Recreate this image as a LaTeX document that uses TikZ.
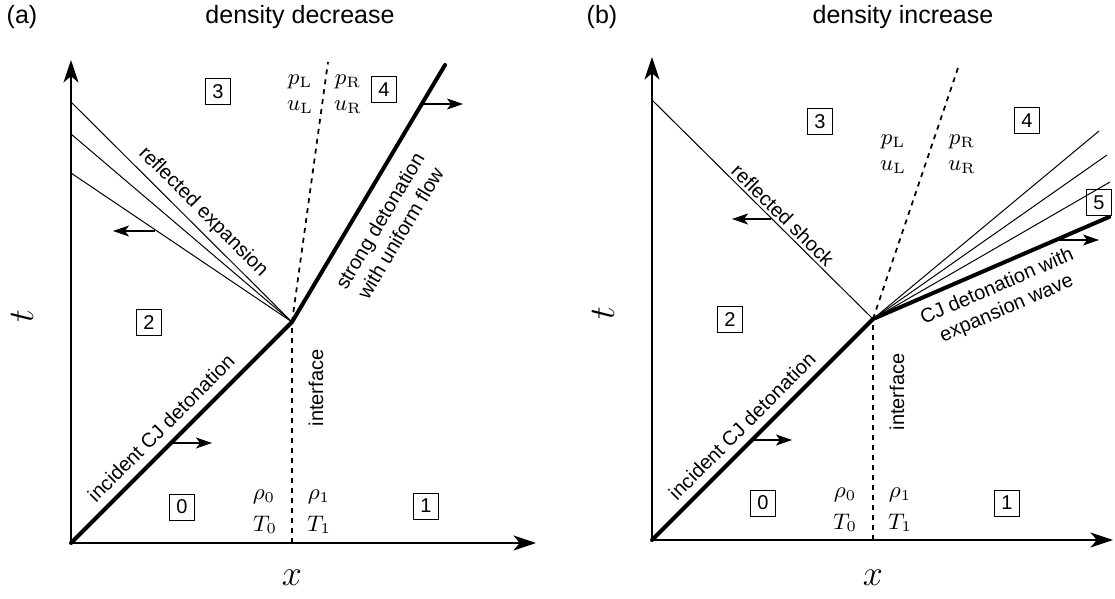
\documentclass[tikz,border=0pt]{standalone}
\usepackage[no-math]{fontspec}
\setmainfont{Liberation Sans}
\usepackage{tikz}
\usetikzlibrary{arrows.meta}
\tikzset{
  axis/.style={line width=0.8pt, -{Stealth[length=9pt, width=6pt, inset=2.5pt]}},
  wave/.style={line width=1.6pt, line cap=round},
  fan/.style={line width=0.4pt},
  contact/.style={line width=0.7pt, dash pattern=on 2pt off 2pt},
  motion/.style={line width=0.5pt, -{Stealth[length=6.4pt, width=4.4pt, inset=1.6pt]}},
  region/.style={
    draw, line width=0.4pt, inner sep=0pt,
    minimum width=10pt, minimum height=10.4pt,
    font=\fontsize{8}{9.6}\selectfont
  },
  lbl/.style={font=\fontsize{8}{9.6}\selectfont, inner sep=0pt, align=center},
  title/.style={font=\fontsize{10}{12}\selectfont, inner sep=0pt},
  state/.style={font=\fontsize{9}{11}\selectfont, inner sep=0pt},
  axlabel/.style={font=\fontsize{15}{18}\selectfont, inner sep=0pt},
}

\begin{document}
\begin{tikzpicture}[x=0.4pt, y=-0.4pt]
  \useasboundingbox (0,0) rectangle (1115,599);

  % (a) density decrease
  \coordinate (oA) at (71,543);
  \coordinate (tA) at (71,60);
  \coordinate (xA) at (536,543);
  \coordinate (kA) at (292,322);
  \coordinate (iA) at (292,543);
  \coordinate (cA) at (328,62);
  \coordinate (sA) at (445,65);
  \foreach \y [count=\i] in {102,134,173} \coordinate (fA\i) at (71,\y);

  \draw [axis]    (oA) -- (tA);
  \draw [axis]    (oA) -- (xA);
  \draw [contact] (iA) -- (kA);
  \draw [contact] (kA) -- (cA);
  \foreach \i in {1,2,3} \draw [fan] (kA) -- (fA\i);
  \draw [wave]    (oA) -- (kA) -- (sA);

  \coordinate (m1A) at (171,443);  \coordinate (m2A) at (212,443);
  \coordinate (m3A) at (155,231);  \coordinate (m4A) at (113,231);
  \coordinate (m5A) at (422,104);  \coordinate (m6A) at (463,104);
  \draw [motion] (m1A) -- (m2A);
  \draw [motion] (m3A) -- (m4A);
  \draw [motion] (m5A) -- (m6A);

  \node (tagA) [title] at (22,17)  {(a)};
  \node (ttlA) [title] at (300,17) {density decrease};
  \node (tlA)  [axlabel, rotate=90] at (22,316) {$t$};
  \node (xlA)  [axlabel] at (292,578) {$x$};

  \node (r0A) [region] at (182,507) {0};
  \node (r1A) [region] at (426,506) {1};
  \node (r2A) [region] at (149,323) {2};
  \node (r3A) [region] at (218,92)  {3};
  \node (r4A) [region] at (384,90)  {4};

  \node (rho0A) [state] at (264,497) {$\rho_0$};
  \node (T0A)   [state] at (265,525) {$T_0$};
  \node (rho1A) [state] at (319,497) {$\rho_1$};
  \node (T1A)   [state] at (319,525) {$T_1$};
  \node (pLA)   [state] at (300,82)  {$p_\mathrm{L}$};
  \node (uLA)   [state] at (300,107) {$u_\mathrm{L}$};
  \node (pRA)   [state] at (348,82)  {$p_\mathrm{R}$};
  \node (uRA)   [state] at (348,107) {$u_\mathrm{R}$};

  \node (incA) [lbl, rotate=45]   at (161,428) {incident CJ detonation};
  \node (refA) [lbl, rotate=-45]  at (203,212) {reflected expansion};
  \node (strA) [lbl, rotate=59.2] at (390,227) {strong detonation\\with uniform flow};
  \node (intA) [lbl, rotate=90]   at (316,388) {interface};

  % (b) density increase
  \coordinate (oB) at (652,540);
  \coordinate (tB) at (652,57);
  \coordinate (xB) at (1113,540);
  \coordinate (kB) at (873,319);
  \coordinate (iB) at (873,540);
  \coordinate (cB) at (959,65);
  \coordinate (hB) at (652,100);
  \coordinate (sB) at (1109,217);
  \coordinate (fB1) at (1099,131);
  \coordinate (fB2) at (1107,155);
  \coordinate (fB3) at (1110,182);

  \draw [axis]    (oB) -- (tB);
  \draw [axis]    (oB) -- (xB);
  \draw [contact] (iB) -- (kB);
  \draw [contact] (kB) -- (cB);
  \draw [fan]     (kB) -- (hB);
  \foreach \i in {1,2,3} \draw [fan] (kB) -- (fB\i);
  \draw [wave]    (oB) -- (kB) -- (sB);

  \coordinate (m1B) at (752,440);  \coordinate (m2B) at (792,440);
  \coordinate (m3B) at (771,219);  \coordinate (m4B) at (732,219);
  \coordinate (m5B) at (1058,240); \coordinate (m6B) at (1099,240);
  \draw [motion] (m1B) -- (m2B);
  \draw [motion] (m3B) -- (m4B);
  \draw [motion] (m5B) -- (m6B);

  \node (tagB) [title] at (602,17) {(b)};
  \node (ttlB) [title] at (903,17) {density increase};
  \node (tlB)  [axlabel, rotate=90] at (603,313) {$t$};
  \node (xlB)  [axlabel] at (873,578) {$x$};

  \node (r0B) [region] at (763,503)  {0};
  \node (r1B) [region] at (1007,503) {1};
  \node (r2B) [region] at (730,320)  {2};
  \node (r3B) [region] at (820,122)  {3};
  \node (r4B) [region] at (1027,121) {4};
  \node (r5B) [region] at (1099,203) {5};

  \node (rho0B) [state] at (845,495) {$\rho_0$};
  \node (T0B)   [state] at (845,523) {$T_0$};
  \node (rho1B) [state] at (900,495) {$\rho_1$};
  \node (T1B)   [state] at (900,523) {$T_1$};
  \node (pLB)   [state] at (893,142) {$p_\mathrm{L}$};
  \node (uLB)   [state] at (893,167) {$u_\mathrm{L}$};
  \node (pRB)   [state] at (962,142) {$p_\mathrm{R}$};
  \node (uRB)   [state] at (962,167) {$u_\mathrm{R}$};

  \node (incB) [lbl, rotate=45]    at (742,426) {incident CJ detonation};
  \node (refB) [lbl, rotate=-44.7] at (783,215) {reflected shock};
  \node (cjB)  [lbl, rotate=23.4]  at (1002,298) {CJ detonation with\\expansion wave};
  \node (intB) [lbl, rotate=90]    at (897,392) {interface};
\end{tikzpicture}
\end{document}
